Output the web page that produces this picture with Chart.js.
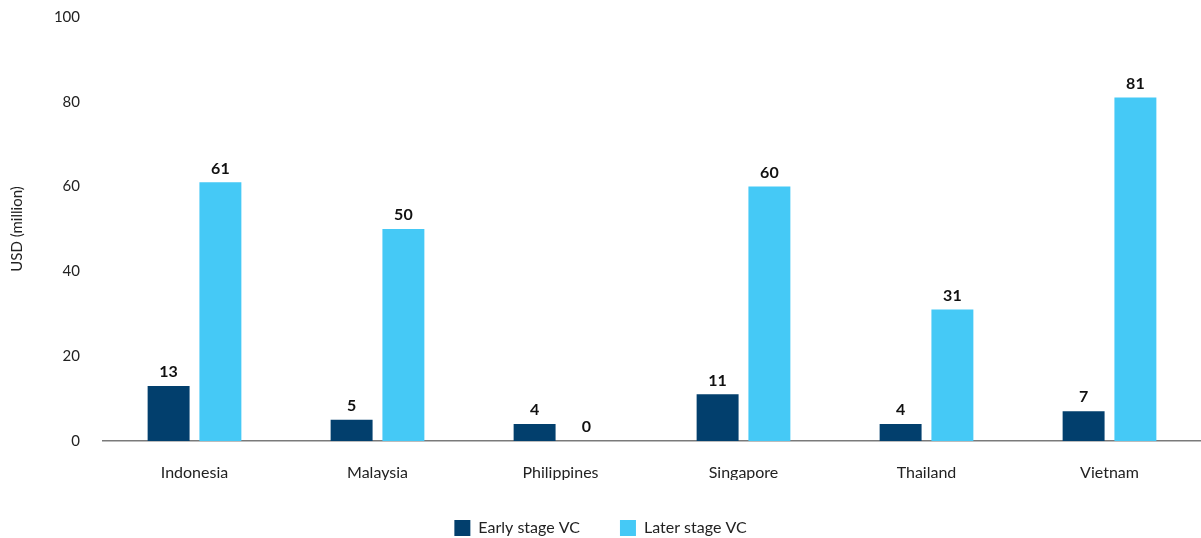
<!DOCTYPE html>
<html>
<head>
<meta charset="utf-8">
<script src="https://cdn.jsdelivr.net/npm/chart.js@4"></script>
<style>
  html, body { margin: 0; padding: 0; background: #fff; }
  #wrap { width: 1201px; height: 538px; }
</style>
</head>
<body>
<div id="wrap"><canvas id="myChart"></canvas></div>
<script>
// VC funding by country, USD (million)
var countries = ['Indonesia', 'Malaysia', 'Philippines', 'Singapore', 'Thailand', 'Vietnam'];
var earlyStage = [13, 5, 4, 11, 4, 7];
var laterStage = [61, 50, 0, 60, 31, 81];
var yTicks = [0, 20, 40, 60, 80, 100];

var darkBlue = '#023f6d';
var lightBlue = '#45c9f6';
var fontFamily = 'Lato, "Noto Sans", sans-serif';

// value labels above each bar
var barValues = {
    id: 'barValues',
    afterDatasetsDraw: function (chart) {
        var ctx = chart.ctx;
        ctx.save();
        ctx.font = 'bold 16px ' + fontFamily;
        ctx.fillStyle = '#111';
        ctx.textAlign = 'center';
        ctx.textBaseline = 'middle';
        chart.data.datasets.forEach(function (ds, i) {
            chart.getDatasetMeta(i).data.forEach(function (bar, j) {
                ctx.fillText(ds.data[j], bar.x, bar.y - 14);
            });
        });
        ctx.restore();
    }
};

var ctx = document.getElementById('myChart').getContext('2d');
var myChart = new Chart(ctx, {
    type: 'bar',
    data: {
        labels: countries,
        datasets: [{
            label: 'Early stage VC',
            data: earlyStage,
            backgroundColor: darkBlue,
            categoryPercentage: 0.566,
            barPercentage: 0.81
        }, {
            label: 'Later stage VC',
            data: laterStage,
            backgroundColor: lightBlue,
            categoryPercentage: 0.566,
            barPercentage: 0.81
        }]
    },
    options: {
        responsive: true,
        maintainAspectRatio: false,
        animation: false,
        layout: { padding: { top: 17, right: 0, bottom: -8, left: 0 } },
        plugins: {
            legend: {
                position: 'bottom',
                labels: {
                    boxWidth: 16,
                    boxHeight: 16,
                    padding: 40,
                    color: '#222',
                    font: { family: fontFamily, size: 16 }
                }
            },
            tooltip: { enabled: false }
        },
        scales: {
            x: {
                afterFit: function (scale) { scale.height = 39; },
                grid: { display: false, drawTicks: false },
                border: { display: true, color: '#7a7a7a', width: 1.5 },
                ticks: {
                    color: '#222',
                    padding: 22,
                    font: { family: fontFamily, size: 16 }
                }
            },
            y: {
                min: 0,
                max: 100,
                afterFit: function (scale) { scale.width = 103; },
                afterBuildTicks: function (scale) {
                    scale.ticks = yTicks.map(function (v) { return { value: v }; });
                },
                // tick marks hidden, tickLength only spaces the labels
                grid: { display: false, drawTicks: true, tickLength: 23 },
                border: { display: false },
                ticks: {
                    color: '#222',
                    padding: 0,
                    font: { family: fontFamily, size: 15 }
                },
                title: {
                    display: true,
                    text: 'USD (million)',
                    color: '#222',
                    padding: { top: 8, bottom: 0 },
                    font: { family: fontFamily, size: 15 }
                }
            }
        }
    },
    plugins: [barValues]
});
</script>
</body>
</html>
